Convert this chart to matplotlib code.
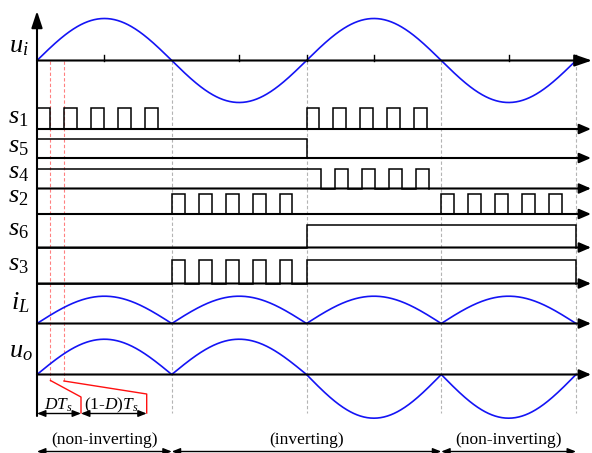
import numpy as np
import matplotlib
matplotlib.use('Agg')
import matplotlib.pyplot as plt

plt.rcParams['mathtext.fontset'] = 'custom'
plt.rcParams['mathtext.rm'] = 'Liberation Serif'
plt.rcParams['mathtext.it'] = 'Liberation Serif:italic'
plt.rcParams['font.family'] = ['Liberation Serif', 'DejaVu Serif']

# ---------------- data (time in switching periods Ts) ----------------
line_period = 10.0            # period of u_i in Ts
t_end = 20.0                  # two line periods shown
ui_amp = 1.0
iL_amp = 0.65
uo_amp_pos = 0.84
uo_amp_neg = 1.04
# mode of the converter per interval: +1 non-inverting, -1 inverting
mode_edges = [0.0, 5.0, 15.0, 20.0]
mode_gain = [1, -1, 1]
mode_names = ['(non-inverting)', '(inverting)', '(non-inverting)']

# switching signals: rising / falling edges (Ts)
s1_rise = [0, 1, 2, 3, 4, 10, 11, 12, 13, 14]
s1_fall = [0.48, 1.48, 2.48, 3.48, 4.48, 10.47, 11.47, 12.47, 13.47, 14.47]
s5_rise = [0]
s5_fall = [10]
s4_rise = [0, 11.05, 12.05, 13.05, 14.05]
s4_fall = [10.55, 11.55, 12.55, 13.55, 14.55]
s2_rise = [5, 6, 7, 8, 9, 15, 16, 17, 18, 19]
s2_fall = [5.48, 6.48, 7.48, 8.48, 9.48, 15.48, 16.48, 17.48, 18.48, 19.48]
s6_rise = [10]
s6_fall = [20]
s3_rise = [5, 6, 7, 8, 9, 10]
s3_fall = [5.48, 6.48, 7.48, 8.48, 9.48, 20]
duty = 0.5

ui_ticks = [2.5, 7.5, 10, 12.5, 17.5, 20]

# ---------------- layout (pixel-like vertical units) ----------------
PX = 26.95       # pixels per Ts
X0 = 37          # pixel of t = 0
W, H = 592, 453

def tx(px):
    return (px - X0) / PX

rows = {  # name: (baseline, high level / amplitude scale)
    'ui': (60.5, 42),
    's1': (129, 21), 's5': (158, 19), 's4': (188.5, 19.5), 's2': (214, 20),
    's6': (247.5, 22.5), 's3': (283.5, 23.5),
    'iL': (323.5, 42), 'uo': (374.5, 42),
}
labels = {
    'ui': (r'$u_i$', 9, 52), 's1': (r'$s_1$', 8, 123), 's5': (r'$s_5$', 8, 152),
    's4': (r'$s_4$', 8, 178), 's2': (r'$s_2$', 8, 202.5), 's6': (r'$s_6$', 8, 235),
    's3': (r'$s_3$', 8, 270), 'iL': (r'$i_L$', 11, 309), 'uo': (r'$u_o$', 9, 357),
}

BLUE = '#1414f5'
fig = plt.figure(figsize=(W / 100, H / 100), dpi=100)
ax = fig.add_axes([0, 0, 1, 1])
ax.set_xlim(tx(0), tx(W))
ax.set_ylim(H, 0)
ax.axis('off')

# guide lines
for tg in [5, 10, 15, 20]:
    ax.plot([tg, tg], [60.5, 413], color='#b4b4b4', lw=0.8, dashes=(3, 2), zorder=1)
for tg in [duty, 1.0]:
    ax.plot([tg, tg], [60.5, 380.5], color='#ff8080', lw=0.8, dashes=(3, 2), zorder=1)


def harrow(y, big=False):
    if big:
        st = '-|>,head_length=1.05,head_width=0.36'
        tip = tx(592)
    else:
        st = '-|>,head_length=0.7,head_width=0.3'
        tip = tx(591)
    ax.annotate('', xy=(tip, y), xytext=(0, y),
                arrowprops=dict(arrowstyle=st, lw=1.5, color='k', shrinkA=0,
                                shrinkB=0, mutation_scale=10), zorder=4)

# vertical axis
ax.annotate('', xy=(0, 11), xytext=(0, 416),
            arrowprops=dict(arrowstyle='-|>,head_length=1.0,head_width=0.33', lw=1.5,
                            color='k', shrinkA=0, shrinkB=0, mutation_scale=10), zorder=4)

# u_i
t = np.linspace(0, t_end, 801)
ui = ui_amp * np.sin(2 * np.pi * t / line_period)
b, a = rows['ui']
ax.plot(t, b - a * ui, color=BLUE, lw=1.2, zorder=3)
harrow(b, big=True)
for tk in ui_ticks:
    ax.plot([tk, tk], [b, b - 6], color='k', lw=1.0, zorder=4)

# switching signals
def pulses(name, rise, fall):
    b, h = rows[name]
    xs, ys = [0], [b]
    for r, f in zip(rise, fall):
        xs += [r, r, f, f]
        ys += [b, b - h, b - h, b]
    ax.plot(xs, ys, color='k', lw=1.1, zorder=3, solid_joinstyle='miter')
    harrow(b)

pulses('s1', s1_rise, s1_fall)
pulses('s5', s5_rise, s5_fall)
pulses('s4', s4_rise, s4_fall)
pulses('s2', s2_rise, s2_fall)
pulses('s6', s6_rise, s6_fall)
pulses('s3', s3_rise, s3_fall)

# i_L
b, a = rows['iL']
ax.plot(t, b - a * iL_amp * np.abs(ui), color=BLUE, lw=1.2, zorder=3)
harrow(b)

# u_o
gain = np.ones_like(t)
for (lo, hi), g in zip(zip(mode_edges[:-1], mode_edges[1:]), mode_gain):
    gain[(t >= lo) & (t <= hi)] = g
uo = gain * ui
uo = np.where(uo >= 0, uo * uo_amp_pos, uo * uo_amp_neg)
b, a = rows['uo']
ax.plot(t, b - a * uo, color=BLUE, lw=1.2, zorder=3)
harrow(b)

# labels
for key, (txt, x, y) in labels.items():
    ax.text(tx(x), y, txt, fontsize=19, ha='left', va='baseline', zorder=5)

# DTs callout
RED = '#ff1010'
ax.plot([duty, tx(81), tx(81)], [380.5, 397, 413], color=RED, lw=1.0, zorder=3)
ax.plot([1.0, tx(146.7), tx(146.7)], [381, 394, 413], color=RED, lw=1.0, zorder=3)
dbl = dict(arrowstyle='<|-|>,head_length=0.5,head_width=0.2', lw=1.0, color='k',
           shrinkA=0, shrinkB=0, mutation_scale=10)
ax.annotate('', xy=(0, 413.5), xytext=(tx(81), 413.5), arrowprops=dbl)
ax.annotate('', xy=(tx(81), 413.5), xytext=(tx(146.7), 413.5), arrowprops=dbl)
ax.text(tx(58.7), 409.5, r'$DT_s$', fontsize=12.5, ha='center', va='baseline')
ax.text(tx(111), 409.5, r'$\mathrm{(1\text{-}}D\mathrm{)}T_s$', fontsize=12.5, ha='center', va='baseline')

# modes
for (lo, hi), name in zip(zip(mode_edges[:-1], mode_edges[1:]), mode_names):
    ax.annotate('', xy=(lo, 451.5), xytext=(hi, 451.5), arrowprops=dbl)
    ax.text((lo + hi) / 2, 443.5, name, fontsize=12.5, ha='center', va='baseline')

fig.savefig('out.png', dpi=100)
